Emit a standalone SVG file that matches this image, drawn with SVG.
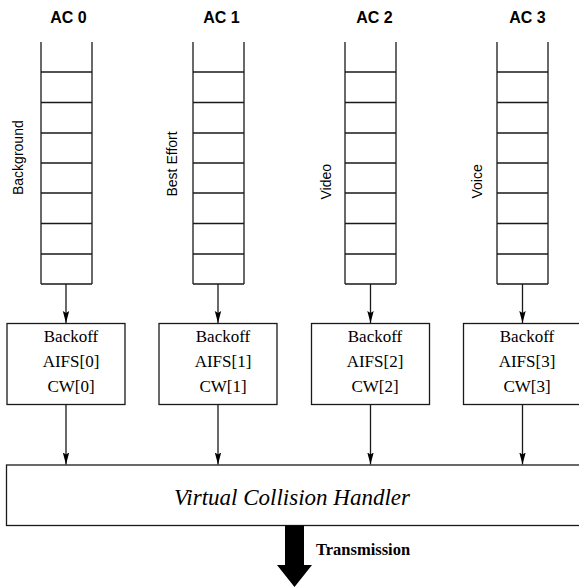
<svg xmlns="http://www.w3.org/2000/svg" width="579" height="588" viewBox="0 0 579 588">
<defs>
<style>
.ln{stroke:#1a1a1a;stroke-width:1.3;fill:none}
.box{stroke:#1a1a1a;stroke-width:1.3;fill:#fff}
.ac{font-family:"Liberation Sans",Arial,sans-serif;font-weight:bold;font-size:16px;text-anchor:middle;fill:#000}
.lab{font-family:"Liberation Sans",Arial,sans-serif;font-size:14px;fill:#000}
.bo{font-family:"Liberation Serif","Times New Roman",serif;font-size:17px;text-anchor:middle;fill:#000}
.vch{font-family:"Liberation Serif","Times New Roman",serif;font-style:italic;font-size:23px;text-anchor:middle;fill:#000}
.tx{font-family:"Liberation Serif","Times New Roman",serif;font-weight:bold;font-size:16.5px;fill:#000}
</style>
<marker id="ah" markerUnits="userSpaceOnUse" markerWidth="8" markerHeight="12" viewBox="0 0 8 12" refX="4" refY="12" orient="0">
<path d="M0.8,0 L4,12 L7.2,0 L4,2 Z" fill="#000"/>
</marker>
<g id="queue">
<path class="ln" d="M0.5,42 V284 M51.5,42 V284 M0.5,72 H51.5 M0.5,102.5 H51.5 M0.5,133 H51.5 M0.5,163 H51.5 M0.5,193 H51.5 M0.5,223.5 H51.5 M0.5,254 H51.5 M0.5,284 H51.5"/>
</g>
</defs>

<g id="ac0">
<text class="ac" x="68.5" y="23">AC 0</text>
<use href="#queue" x="40.5"/>
<text class="lab" transform="translate(22.5,195) rotate(-90)">Background</text>
</g>
<g id="ac1">
<text class="ac" x="221.5" y="23">AC 1</text>
<use href="#queue" x="192.5"/>
<text class="lab" transform="translate(176.5,196.5) rotate(-90)">Best Effort</text>
</g>
<g id="ac2">
<text class="ac" x="374.5" y="23">AC 2</text>
<use href="#queue" x="344.5"/>
<text class="lab" transform="translate(330.5,199.5) rotate(-90)">Video</text>
</g>
<g id="ac3">
<text class="ac" x="527.5" y="23">AC 3</text>
<use href="#queue" x="496.5"/>
<text class="lab" transform="translate(481.5,198.5) rotate(-90)">Voice</text>
</g>

<g id="backoff0">
<rect class="box" x="7" y="323.5" width="118" height="81"/>
<text class="bo" x="71" y="342">Backoff</text>
<text class="bo" x="71" y="367">AIFS[0]</text>
<text class="bo" x="71" y="392">CW[0]</text>
</g>
<g id="backoff1">
<rect class="box" x="159" y="323.5" width="118" height="81"/>
<text class="bo" x="223" y="342">Backoff</text>
<text class="bo" x="223" y="367">AIFS[1]</text>
<text class="bo" x="223" y="392">CW[1]</text>
</g>
<g id="backoff2">
<rect class="box" x="311.5" y="323.5" width="118" height="81"/>
<text class="bo" x="375" y="342">Backoff</text>
<text class="bo" x="375" y="367">AIFS[2]</text>
<text class="bo" x="375" y="392">CW[2]</text>
</g>
<g id="backoff3">
<rect class="box" x="463.5" y="323.5" width="118" height="81"/>
<text class="bo" x="527" y="342">Backoff</text>
<text class="bo" x="527" y="367">AIFS[3]</text>
<text class="bo" x="527" y="392">CW[3]</text>
</g>

<g id="handler">
<rect class="box" x="6.5" y="465" width="590" height="60.5"/>
<text class="vch" x="292" y="505">Virtual Collision Handler</text>
</g>

<g id="connectors">
<line class="ln" x1="66" y1="284" x2="66" y2="323" marker-end="url(#ah)"/>
<line class="ln" x1="218" y1="284" x2="218" y2="323" marker-end="url(#ah)"/>
<line class="ln" x1="370.5" y1="284" x2="370.5" y2="323" marker-end="url(#ah)"/>
<line class="ln" x1="522.5" y1="284" x2="522.5" y2="323" marker-end="url(#ah)"/>
<line class="ln" x1="66" y1="404.5" x2="66" y2="464.5" marker-end="url(#ah)"/>
<line class="ln" x1="218" y1="404.5" x2="218" y2="464.5" marker-end="url(#ah)"/>
<line class="ln" x1="370.5" y1="404.5" x2="370.5" y2="464.5" marker-end="url(#ah)"/>
<line class="ln" x1="522.5" y1="404.5" x2="522.5" y2="464.5" marker-end="url(#ah)"/>
<path d="M285,525.5 H304 V565 H312 L294.5,587 L277,565 H285 Z" fill="#000"/>
<text class="tx" x="316" y="555">Transmission</text>
</g>
</svg>
